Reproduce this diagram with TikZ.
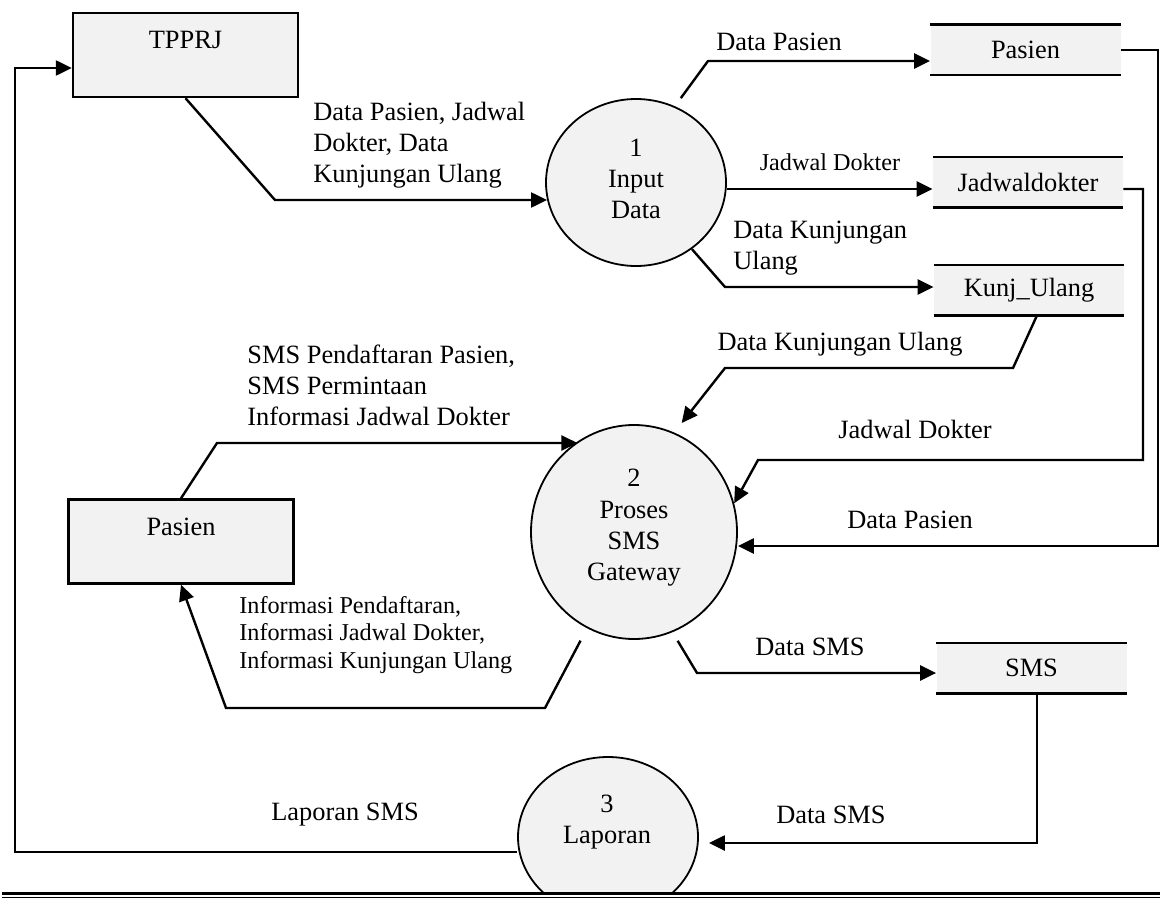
\documentclass[tikz,border=0pt]{standalone}
\usepackage{fontspec}
\setmainfont{Liberation Serif}
\usetikzlibrary{arrows.meta,shapes.geometric,calc}
\definecolor{boxgray}{HTML}{F2F2F2}
\begin{document}
\begin{tikzpicture}[x=0.5pt,y=-0.5pt,
  font=\fontsize{13.2}{15.5}\selectfont,
  ext/.style={draw, line width=1.2pt, fill=boxgray, minimum width=112.5pt, minimum height=42pt, inner sep=0pt},
  store/.style={fill=boxgray, minimum width=95pt, minimum height=25pt, inner sep=0pt},
  storeline/.style={line width=1.1pt},
  proc/.style={ellipse, draw, line width=0.9pt, fill=boxgray, inner sep=0pt},
  ptext/.style={align=center, inner sep=0pt, font=\fontsize{13.2}{15.7}\selectfont},
  lbl/.style={inner sep=0pt, align=left},
  small/.style={font=\fontsize{12.1}{13.8}\selectfont},
  flow/.style={line width=1.2pt, -{Triangle[length=8pt,width=7.5pt]}},
  ]
\useasboundingbox (0,0) rectangle (1160,899);

% external entities
\node[ext] (tpprj) at (185.5,55) {};
\node[lbl] (tpprjt) at (185.5,40) {TPPRJ};
\node[ext] (pl) at (181,541.5) {};
\node[lbl] (plt) at (181,527) {Pasien};

% processes
\node[proc, minimum width=90pt, minimum height=83.5pt] (p1) at (636,182.5) {};
\node[ptext] (p1t) at (636,179) {1\\Input\\Data};
\node[proc, minimum width=103pt, minimum height=107pt] (p2) at (634,532) {};
\node[ptext] (p2t) at (634,528) {2\\Proses\\SMS\\Gateway};
\begin{scope}
  \clip (0,0) rectangle (1160,892.5);
  \node[proc, minimum width=90pt, minimum height=80pt] (p3) at (608,837) {};
\end{scope}
\node[ptext] (p3t) at (607,822) {3\\Laporan};

% data stores
\node[store] (ps) at (1025.5,50) {Pasien};
\node[store] (jd) at (1028,182) {Jadwaldokter};
\node[store] (ku) at (1029,290) {Kunj\_Ulang};
\node[store] (sms) at (1031.5,668) {SMS};
\foreach \s in {ps,jd,ku,sms}
  \draw[storeline] (\s.north west) -- (\s.north east) (\s.south west) -- (\s.south east);

% flows
\draw[flow] (tpprj.south) -- (275,200) -- (p1.191 |- 275,200);
\draw[flow, shorten <=5pt] (p1.63) -- (708,61) -- (ps.west |- 708,61);
\draw[flow] (p1.east |- 0,189) -- (jd.west |- 0,189);
\draw[flow] (p1.-50) -- (725,287) -- (ku.west |- 725,287);
\draw[flow] (ps.east) -- (1158,50) -- (1158,546) -- (p2.east |- 0,546);
\draw[flow] (jd.east |- 0,189) -- (1143,189) -- (1143,460) -- (758,460) -- (p2.16);
\draw[flow, shorten >=6pt] (ku.south -| 1037,0) -- (1013,368) -- (725,368) -- (p2.68);
\draw[flow] (pl.north) -- (217,443) -- (p2.122.6 |- 217,443);
\draw[flow, shorten <=7pt] (p2.244) -- (545,708) -- (226,708) -- (pl.south);
\draw[flow, shorten <=5pt] (p2.-69) -- (697,673) -- (sms.west |- 697,673);
\draw[flow, shorten >=5pt] (sms.south -| 1037,0) -- (1037,843) -- (p3.east |- 0,843);
\draw[flow] (p3.west |- 0,852) -- (15,852) -- (15,68) -- (tpprj.west |- 15,68);

% flow labels
\node[lbl, anchor=west] (l1) at (313,145) {Data Pasien, Jadwal\\Dokter, Data\\Kunjungan Ulang};
\node[lbl] (l2) at (779,42) {Data Pasien};
\node[lbl, small] (l3) at (830,162) {Jadwal Dokter};
\node[lbl, anchor=west] (l4) at (733,248) {Data Kunjungan\\Ulang};
\node[lbl] (l5) at (840,344) {Data Kunjungan Ulang};
\node[lbl, anchor=west] (l6) at (247,385) {SMS Pendaftaran Pasien,\\SMS Permintaan\\Informasi Jadwal Dokter};
\node[lbl] (l7) at (915,429) {Jadwal Dokter};
\node[lbl] (l8) at (910,520) {Data Pasien};
\node[lbl, small, anchor=west] (l9) at (239,635) {Informasi Pendaftaran,\\Informasi Jadwal Dokter,\\Informasi Kunjungan Ulang};
\node[lbl] (l10) at (810,647) {Data SMS};
\node[lbl] (l11) at (831,815) {Data SMS};
\node[lbl] (l12) at (345,815) {Laporan SMS};

% page rule
\draw[line width=1.5pt] (2,893.5) -- (1160,893.5);
\draw[line width=0.6pt] (2,897.8) -- (1160,897.8);
\end{tikzpicture}
\end{document}
